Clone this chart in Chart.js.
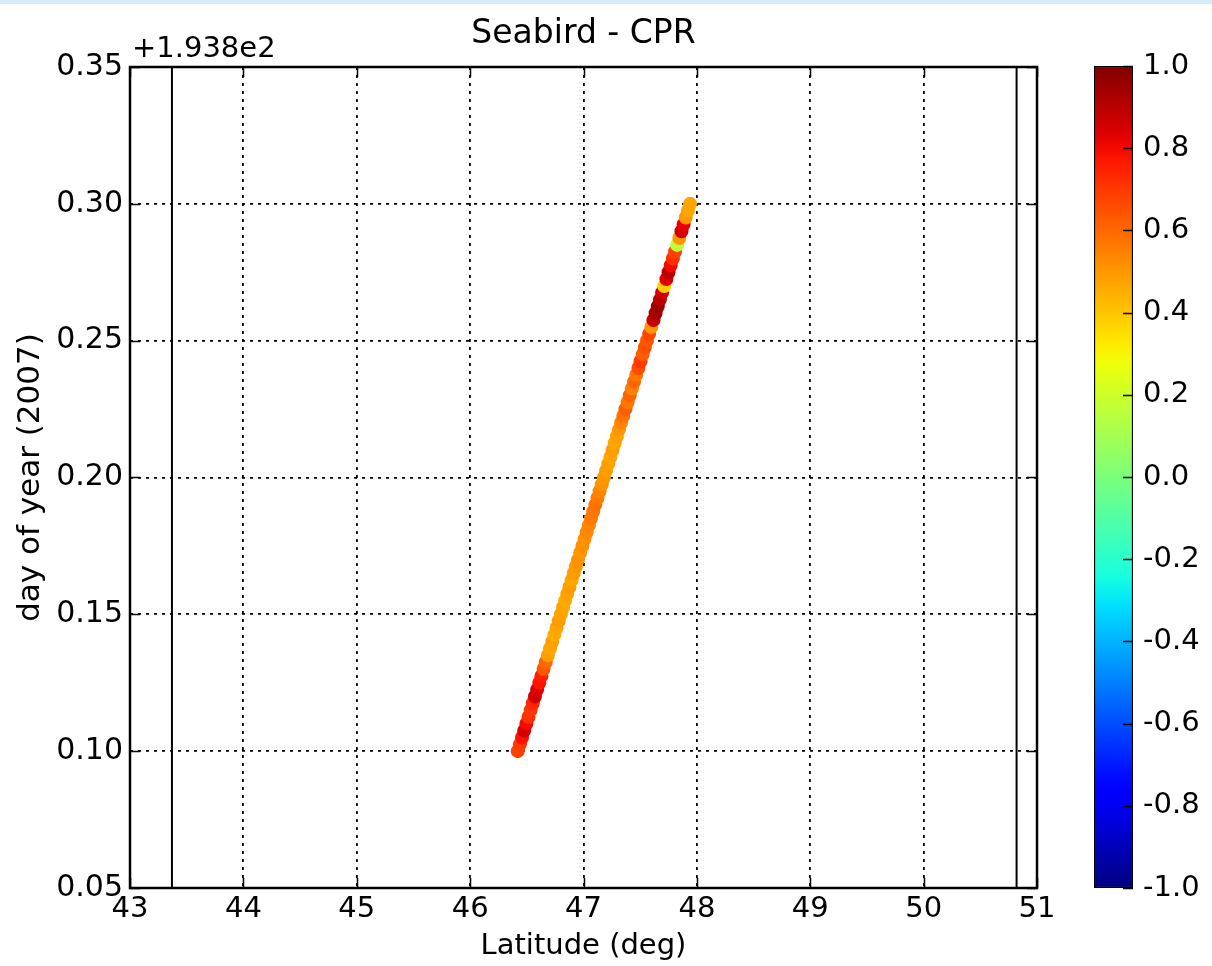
<!DOCTYPE html>
<html>
<head>
<meta charset="utf-8">
<title>Seabird - CPR</title>
<script src="https://cdn.jsdelivr.net/npm/chart.js@4/dist/chart.umd.min.js"></script>
<style>
  html, body { margin: 0; padding: 0; background: #fff; }
  #page { position: relative; width: 1212px; height: 966px; overflow: hidden; }
  #band { position: absolute; left: 0; top: 0; width: 1212px; height: 4px; background: #d6ecfb; }
  #main { position: absolute; left: 0; top: 0; }
  #cbar { position: absolute; left: 1040px; top: 0; }
</style>
</head>
<body>
<div id="page">
  <canvas id="main" width="1060" height="966"></canvas>
  <canvas id="cbar" width="172" height="966"></canvas>
  <div id="band"></div>
</div>
<script>
(function () {
  'use strict';

  // ---- data ----------------------------------------------------------
  // day of year shown as offset from 193.8 (axis offset text "+1.938e2")
  var DOY = [
    0.1000, 0.1025, 0.1050, 0.1075, 0.1100, 0.1125, 0.1150, 0.1175, 0.1200, 0.1225,
    0.1250, 0.1275, 0.1300, 0.1325, 0.1350, 0.1375, 0.1400, 0.1425, 0.1450, 0.1475,
    0.1500, 0.1525, 0.1550, 0.1575, 0.1600, 0.1625, 0.1650, 0.1675, 0.1700, 0.1725,
    0.1750, 0.1775, 0.1800, 0.1825, 0.1850, 0.1875, 0.1900, 0.1925, 0.1950, 0.1975,
    0.2000, 0.2025, 0.2050, 0.2075, 0.2100, 0.2125, 0.2150, 0.2175, 0.2200, 0.2225,
    0.2250, 0.2275, 0.2300, 0.2325, 0.2350, 0.2375, 0.2400, 0.2425, 0.2450, 0.2475,
    0.2500, 0.2525, 0.2550, 0.2575, 0.2600, 0.2625, 0.2650, 0.2675, 0.2700, 0.2725,
    0.2750, 0.2775, 0.2800, 0.2825, 0.2850, 0.2875, 0.2900, 0.2925, 0.2950, 0.2975,
    0.3000
  ];
  var LAT = [
    46.420, 46.439, 46.458, 46.477, 46.496, 46.515, 46.534, 46.553, 46.572, 46.591,
    46.610, 46.629, 46.648, 46.667, 46.686, 46.705, 46.724, 46.743, 46.762, 46.781,
    46.800, 46.819, 46.838, 46.857, 46.876, 46.895, 46.914, 46.933, 46.952, 46.971,
    46.990, 47.009, 47.028, 47.047, 47.066, 47.085, 47.104, 47.123, 47.142, 47.161,
    47.180, 47.199, 47.218, 47.237, 47.256, 47.275, 47.294, 47.313, 47.332, 47.351,
    47.370, 47.389, 47.408, 47.427, 47.446, 47.465, 47.484, 47.503, 47.522, 47.541,
    47.560, 47.579, 47.598, 47.617, 47.636, 47.655, 47.674, 47.693, 47.712, 47.731,
    47.750, 47.769, 47.788, 47.807, 47.826, 47.845, 47.864, 47.883, 47.902, 47.921,
    47.940
  ];
  var VALUE = [
    0.68, 0.70, 0.78, 0.86, 0.80, 0.72, 0.70, 0.74, 0.86, 0.84,
    0.78, 0.76, 0.64, 0.60, 0.49, 0.47, 0.48, 0.46, 0.47, 0.49,
    0.48, 0.47, 0.46, 0.48, 0.49, 0.47, 0.49, 0.50, 0.51, 0.50,
    0.52, 0.51, 0.53, 0.54, 0.56, 0.57, 0.58, 0.56, 0.54, 0.51,
    0.50, 0.49, 0.48, 0.47, 0.49, 0.47, 0.48, 0.50, 0.54, 0.58,
    0.62, 0.57, 0.61, 0.55, 0.60, 0.57, 0.66, 0.70, 0.62, 0.65,
    0.64, 0.68, 0.50, 0.88, 0.93, 0.95, 0.90, 0.86, 0.38, 0.84,
    0.90, 0.80, 0.72, 0.68, 0.15, 0.50, 0.86, 0.82, 0.50, 0.47,
    0.47
  ];
  var VLINE_X = [43.37, 50.82];          // the two solid vertical lines
  var X_RANGE = [43, 51];
  var Y_RANGE = [0.05, 0.35];
  var Y_OFFSET_TEXT = '+1.938e2';
  var CB_RANGE = [-1, 1];

  var FONT = "'DejaVu Sans', 'Liberation Sans', sans-serif";
  Chart.defaults.font.family = FONT;
  Chart.defaults.color = '#000';

  // matplotlib 'jet' segment data
  var JET = {
    r: [[0, 0], [0.35, 0], [0.66, 1], [0.89, 1], [1, 0.5]],
    g: [[0, 0], [0.125, 0], [0.375, 1], [0.64, 1], [0.91, 0], [1, 0]],
    b: [[0, 0.5], [0.11, 1], [0.34, 1], [0.65, 0], [1, 0]]
  };
  function seg(pts, t) {
    for (var i = 1; i < pts.length; i++) {
      if (t <= pts[i][0]) {
        var a = pts[i - 1], b = pts[i];
        return a[1] + (b[1] - a[1]) * (t - a[0]) / (b[0] - a[0]);
      }
    }
    return pts[pts.length - 1][1];
  }
  function jet(v) {
    var t = (v - CB_RANGE[0]) / (CB_RANGE[1] - CB_RANGE[0]);
    t = Math.max(0, Math.min(1, t));
    return 'rgb(' + Math.round(seg(JET.r, t) * 255) + ',' +
      Math.round(seg(JET.g, t) * 255) + ',' + Math.round(seg(JET.b, t) * 255) + ')';
  }

  // inward ticks on every side + full frame, like the old matplotlib look
  function inwardTicks(ctx, scale, area, horizontal, len) {
    scale.ticks.forEach(function (t) {
      var p = Math.round(scale.getPixelForValue(t.value)) + 0.5;
      ctx.beginPath();
      if (horizontal) {
        ctx.moveTo(p, area.bottom); ctx.lineTo(p, area.bottom - len);
        ctx.moveTo(p, area.top); ctx.lineTo(p, area.top + len);
      } else {
        ctx.moveTo(area.left, p); ctx.lineTo(area.left + len, p);
        ctx.moveTo(area.right, p); ctx.lineTo(area.right - len, p);
      }
      ctx.stroke();
    });
  }

  var framePlugin = {
    id: 'frame',
    afterDraw: function (chart) {
      var ctx = chart.ctx, a = chart.chartArea;
      ctx.save();
      ctx.strokeStyle = '#000';
      ctx.lineWidth = 1.5;
      inwardTicks(ctx, chart.scales.x, a, true, 10);
      inwardTicks(ctx, chart.scales.y, a, false, 10);
      ctx.lineWidth = 2.5;
      ctx.strokeRect(a.left, a.top, a.right - a.left, a.bottom - a.top);
      // axis offset text
      ctx.font = '29px ' + FONT;
      ctx.fillStyle = '#000';
      ctx.textAlign = 'left';
      ctx.textBaseline = 'alphabetic';
      ctx.fillText(Y_OFFSET_TEXT, a.left + 2, a.top - 10);
      ctx.restore();
    }
  };

  var points = DOY.map(function (d, i) { return { x: LAT[i], y: d }; });
  var vlines = VLINE_X.map(function (x) {
    return {
      type: 'line',
      data: [{ x: x, y: Y_RANGE[0] }, { x: x, y: Y_RANGE[1] }],
      borderColor: '#000', borderWidth: 2, pointRadius: 0, fill: false
    };
  });

  new Chart(document.getElementById('main'), {
    type: 'scatter',
    data: {
      datasets: [{
        data: points,
        pointBackgroundColor: VALUE.map(jet),
        pointBorderWidth: 0,
        pointRadius: 7
      }].concat(vlines)
    },
    options: {
      responsive: false,
      animation: false,
      layout: { padding: { left: 0, right: 23, top: 0, bottom: 0 } },
      plugins: {
        legend: { display: false },
        tooltip: { enabled: false },
        title: {
          display: true, text: 'Seabird - CPR', fullSize: false,
          font: { size: 33, weight: 'normal' }, color: '#000',
          padding: { top: 14.5, bottom: 12.9 }
        }
      },
      scales: {
        x: {
          type: 'linear', min: X_RANGE[0], max: X_RANGE[1], z: 1,
          afterFit: function (s) { s.height = 78; },
          ticks: { stepSize: 1, padding: 4, font: { size: 29 }, color: '#000', maxRotation: 0 },
          grid: { color: '#000', lineWidth: 1.8, drawTicks: false },
          border: { display: false, dash: [3, 5] },
          title: { display: true, text: 'Latitude (deg)', font: { size: 29 }, color: '#000', padding: { top: 0, bottom: 2 } }
        },
        y: {
          type: 'linear', min: Y_RANGE[0], max: Y_RANGE[1], z: 1,
          afterFit: function (s) { s.width = 130; },
          ticks: {
            stepSize: 0.05, padding: 7, font: { size: 30 }, color: '#000',
            callback: function (v) { return Number(v).toFixed(2); }
          },
          grid: { color: '#000', lineWidth: 1.8, drawTicks: false },
          border: { display: false, dash: [3, 5] },
          title: { display: true, text: 'day of year (2007)', font: { size: 31 }, color: '#000', padding: { top: 12, bottom: 0 } }
        }
      }
    },
    plugins: [framePlugin]
  });

  // ---- colour bar ------------------------------------------------------
  var cbTicksPlugin = {
    id: 'cbticks',
    afterDraw: function (chart) {
      var ctx = chart.ctx, a = chart.chartArea, y = chart.scales.y;
      ctx.save();
      ctx.strokeStyle = '#000';
      ctx.lineWidth = 1.5;
      y.ticks.forEach(function (t) {
        var p = Math.round(y.getPixelForValue(t.value)) + 0.5;
        ctx.beginPath(); ctx.moveTo(a.right, p); ctx.lineTo(a.right - 10, p); ctx.stroke();
      });
      ctx.restore();
    }
  };

  function barGradient(c) {
    var a = c.chart.chartArea;
    if (!a) return null;
    var g = c.chart.ctx.createLinearGradient(0, a.bottom, 0, a.top);
    for (var i = 0; i <= 50; i++) {
      var t = i / 50;
      g.addColorStop(t, jet(CB_RANGE[0] + t * (CB_RANGE[1] - CB_RANGE[0])));
    }
    return g;
  }

  new Chart(document.getElementById('cbar'), {
    type: 'bar',
    data: {
      labels: [''],
      datasets: [{
        data: [CB_RANGE],
        backgroundColor: barGradient,
        borderColor: '#000', borderWidth: 1.5, borderSkipped: false,
        barPercentage: 1, categoryPercentage: 1
      }]
    },
    options: {
      responsive: false,
      animation: false,
      layout: { padding: { left: 54, right: 0, top: 66, bottom: 78 } },
      plugins: { legend: { display: false }, tooltip: { enabled: false } },
      scales: {
        x: { display: false },
        y: {
          position: 'right', min: CB_RANGE[0], max: CB_RANGE[1],
          afterFit: function (s) { s.width = 79; },
          grid: { display: false },
          border: { display: false },
          ticks: {
            stepSize: 0.2, padding: 2, font: { size: 29 }, color: '#000',
            callback: function (v) { return Math.abs(v) < 1e-9 ? '0.0' : Number(v).toFixed(1); }
          }
        }
      }
    },
    plugins: [cbTicksPlugin]
  });
})();
</script>
</body>
</html>
